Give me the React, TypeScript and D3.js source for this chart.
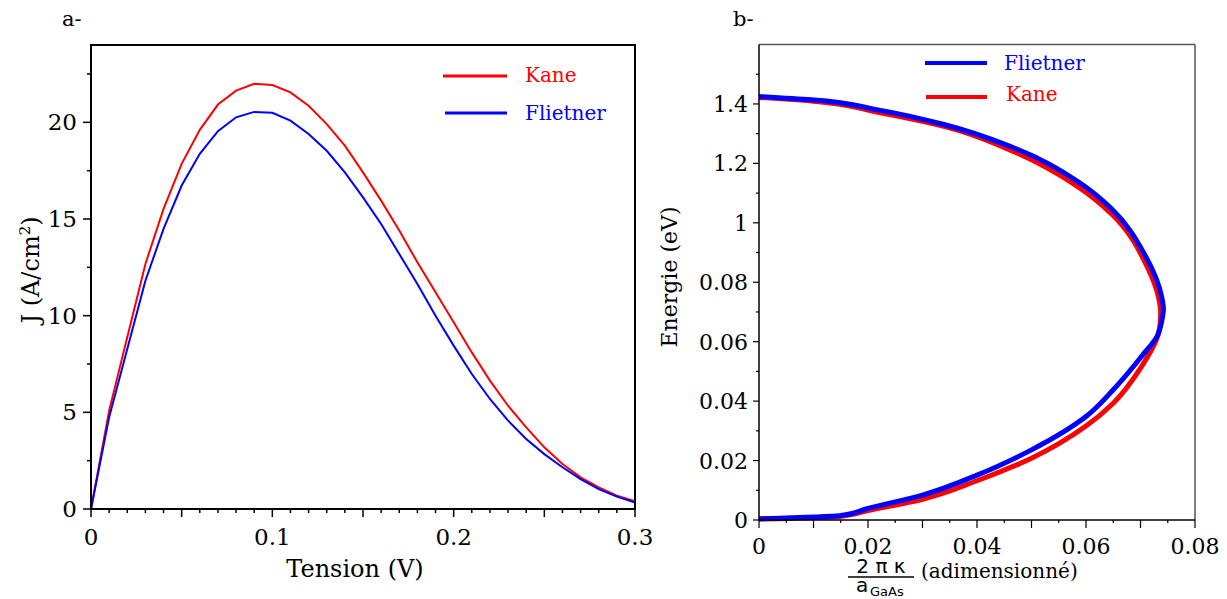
import React from "react";
import * as d3 from "d3";

// ---------- Panel a: J(V) ----------
const voltage = [0, 0.01, 0.02, 0.03, 0.04, 0.05, 0.06, 0.07, 0.08, 0.09, 0.1, 0.11, 0.12, 0.13, 0.14, 0.15, 0.16, 0.17, 0.18, 0.19, 0.2, 0.21, 0.22, 0.23, 0.24, 0.25, 0.26, 0.27, 0.28, 0.29, 0.3];
const kaneJ = [0, 5.08, 8.88, 12.67, 15.52, 17.85, 19.61, 20.92, 21.64, 21.99, 21.93, 21.55, 20.86, 19.91, 18.79, 17.41, 15.95, 14.4, 12.76, 11.21, 9.66, 8.1, 6.64, 5.34, 4.22, 3.19, 2.33, 1.64, 1.12, 0.69, 0.4];
const flietnerJ = [0, 4.74, 8.28, 11.81, 14.49, 16.73, 18.37, 19.54, 20.26, 20.54, 20.49, 20.09, 19.4, 18.53, 17.41, 16.12, 14.74, 13.19, 11.64, 10.0, 8.45, 6.98, 5.69, 4.57, 3.62, 2.84, 2.16, 1.55, 1.03, 0.64, 0.34];
const aXTicks = [0, 0.1, 0.2, 0.3];
const aXTickLabels = ["0", "0.1", "0.2", "0.3"];
const aYTicks = [0, 5, 10, 15, 20];
const aYTickLabels = ["0", "5", "10", "15", "20"];

// ---------- Panel b: E(k), traced from top (k=0, E=Eg) round to bottom ----------
const flietnerE = [1.425, 1.414, 1.38, 1.33, 1.256, 1.139, 1.049, 0.892, 0.75, 0.71, 0.67, 0.62, 0.555, 0.438, 0.348, 0.236, 0.151, 0.084, 0.039, 0.014, 0.004];
const flietnerK = [0, 0.0096, 0.0218, 0.0341, 0.0463, 0.0585, 0.0646, 0.0708, 0.0739, 0.0742, 0.0739, 0.0731, 0.0704, 0.065, 0.06, 0.05, 0.04, 0.03, 0.02, 0.0148, 0];
const kaneE = [1.422, 1.41, 1.372, 1.324, 1.243, 1.122, 1.03, 0.853, 0.75, 0.7, 0.66, 0.628, 0.511, 0.393, 0.316, 0.208, 0.132, 0.07, 0.032, 0.012, 0.003];
const kaneK = [0, 0.0096, 0.0218, 0.0341, 0.0463, 0.0585, 0.0647, 0.0712, 0.0733, 0.0737, 0.0736, 0.0733, 0.07, 0.065, 0.06, 0.05, 0.04, 0.03, 0.02, 0.0148, 0];
const bXTicks = [0, 0.02, 0.04, 0.06, 0.08];
const bXTickLabels = ["0", "0.02", "0.04", "0.06", "0.08"];
const bYTicks = [0, 0.2, 0.4, 0.6, 0.8, 1.0, 1.2, 1.4];
const bYTickLabels = ["0", "0.02", "0.04", "0.06", "0.08", "1", "1.2", "1.4"];

const RED = "#ff0000";
const BLUE = "#0000ff";
const SERIF = "'DejaVu Serif', serif";
const SANS = "'DejaVu Sans', sans-serif";

export default function App() {
  const ax = d3.scaleLinear().domain([0, 0.3]).range([91, 635]);
  const ay = d3.scaleLinear().domain([0, 24]).range([509, 45]);
  const aLine = d3
    .line<number>()
    .x((_, i) => ax(voltage[i]))
    .y((d) => ay(d));
  const aMinorX = d3.range(0, 31).map((i) => i * 0.01);
  const aMinorY = d3.range(0, 10).map((i) => i * 2.5);

  const bx = d3.scaleLinear().domain([0, 0.08]).range([759, 1195]);
  const by = d3.scaleLinear().domain([0, 1.6]).range([520, 44.5]);
  const mkLine = (ks: number[]) =>
    d3
      .line<number>()
      .x((_, i) => bx(ks[i]))
      .y((d) => by(d))
      .curve(d3.curveMonotoneY);
  const bMinorX = d3.range(0, 17).map((i) => i * 0.005);
  const bMinorY = d3.range(0, 16).map((i) => i * 0.1);

  return (
    <svg
      width={1227}
      height={599}
      style={{ position: "absolute", left: 0, top: 0, background: "#fff" }}
    >
      {/* ================= Panel a ================= */}
      <text x={62} y={26} fontFamily={SERIF} fontSize={21} fill="#000">
        a-
      </text>
      <path d={aLine(kaneJ) || ""} fill="none" stroke={RED} strokeWidth={2} />
      <path d={aLine(flietnerJ) || ""} fill="none" stroke={BLUE} strokeWidth={2} />
      <rect x={91} y={45} width={544} height={464} fill="none" stroke="#000" strokeWidth={2} />
      {aMinorX.map((v, i) => {
        const major = i % 5 === 0;
        return (
          <line key={"axm" + i} x1={ax(v)} x2={ax(v)} y1={509} y2={509 + (major ? 8 : 4)} stroke="#000" strokeWidth={1.5} />
        );
      })}
      {aXTicks.map((v, i) => (
        <text key={"axl" + i} x={ax(v)} y={545} textAnchor="middle" fontFamily={SERIF} fontSize={23} fill="#000">
          {aXTickLabels[i]}
        </text>
      ))}
      {aMinorY.map((v, i) => {
        const major = i % 2 === 0;
        return (
          <line key={"aym" + i} x1={91 - (major ? 8 : 4)} x2={91} y1={ay(v)} y2={ay(v)} stroke="#000" strokeWidth={1.5} />
        );
      })}
      {aYTicks.map((v, i) => (
        <text key={"ayl" + i} x={77} y={ay(v) + 8} textAnchor="end" fontFamily={SERIF} fontSize={23} fill="#000">
          {aYTickLabels[i]}
        </text>
      ))}
      <text x={355} y={577} textAnchor="middle" fontFamily={SERIF} fontSize={24} fill="#000">
        Tension (V)
      </text>
      <text transform="translate(39,270) rotate(-90)" textAnchor="middle" fontFamily={SERIF} fontSize={24} fill="#000">
        J (A/cm<tspan dy={-9} fontSize={15}>2</tspan>
        <tspan dy={9}>)</tspan>
      </text>
      <line x1={443} x2={507} y1={76} y2={76} stroke={RED} strokeWidth={3} />
      <text x={525} y={82} fontFamily={SERIF} fontSize={20} fill={RED}>
        Kane
      </text>
      <line x1={445} x2={507} y1={113} y2={113} stroke={BLUE} strokeWidth={3} />
      <text x={525} y={120} fontFamily={SERIF} fontSize={20} fill={BLUE}>
        Flietner
      </text>

      {/* ================= Panel b ================= */}
      <text x={733} y={26} fontFamily={SERIF} fontSize={21} fill="#000">
        b-
      </text>
      <path d={mkLine(kaneK)(kaneE) || ""} fill="none" stroke={RED} strokeWidth={5} strokeLinejoin="round" />
      <path d={mkLine(flietnerK)(flietnerE) || ""} fill="none" stroke={BLUE} strokeWidth={5} strokeLinejoin="round" />
      <line x1={759} x2={1195} y1={44.5} y2={44.5} stroke="#555" strokeWidth={1.5} />
      <line x1={1195} x2={1195} y1={44.5} y2={520} stroke="#555" strokeWidth={1.5} />
      <line x1={759} x2={759} y1={44.5} y2={520} stroke="#000" strokeWidth={1.5} />
      <line x1={759} x2={1195} y1={520} y2={520} stroke="#000" strokeWidth={1.5} />
      {bMinorX.map((v, i) => {
        const major = i % 2 === 0;
        return (
          <line key={"bxm" + i} x1={bx(v)} x2={bx(v)} y1={520} y2={520 + (major ? 8 : 3)} stroke="#000" strokeWidth={1.2} />
        );
      })}
      {bXTicks.map((v, i) => (
        <text key={"bxl" + i} x={bx(v)} y={554} textAnchor="middle" fontFamily={SERIF} fontSize={22} fill="#000">
          {bXTickLabels[i]}
        </text>
      ))}
      {bMinorY.map((v, i) => {
        const major = i % 2 === 0;
        return (
          <line key={"bym" + i} x1={759 - (major ? 6 : 3)} x2={759} y1={by(v)} y2={by(v)} stroke="#000" strokeWidth={1.2} />
        );
      })}
      {bYTicks.map((v, i) => (
        <text key={"byl" + i} x={748} y={by(v) + 8} textAnchor="end" fontFamily={SERIF} fontSize={22} fill="#000">
          {bYTickLabels[i]}
        </text>
      ))}
      <text transform="translate(677,277) rotate(-90)" textAnchor="middle" fontFamily={SERIF} fontSize={22} fill="#000">
        Energie (eV)
      </text>
      <text x={881} y={573} textAnchor="middle" fontFamily={SANS} fontSize={20} fill="#000">
        2 π κ
      </text>
      <line x1={848} x2={914} y1={577} y2={577} stroke="#000" strokeWidth={1.5} />
      <text x={856} y={592} fontFamily={SANS} fontSize={20} fill="#000">
        a
      </text>
      <text x={870} y={596} fontFamily={SANS} fontSize={13} fill="#000">
        GaAs
      </text>
      <text x={921} y={578} fontFamily={SERIF} fontSize={20} fill="#000">
        (adimensionné)
      </text>
      <line x1={925} x2={987} y1={63} y2={63} stroke={BLUE} strokeWidth={4} />
      <text x={1004} y={70} fontFamily={SERIF} fontSize={20} fill={BLUE}>
        Flietner
      </text>
      <line x1={926} x2={987} y1={97} y2={97} stroke={RED} strokeWidth={4} />
      <text x={1006} y={101} fontFamily={SERIF} fontSize={20} fill={RED}>
        Kane
      </text>
    </svg>
  );
}
